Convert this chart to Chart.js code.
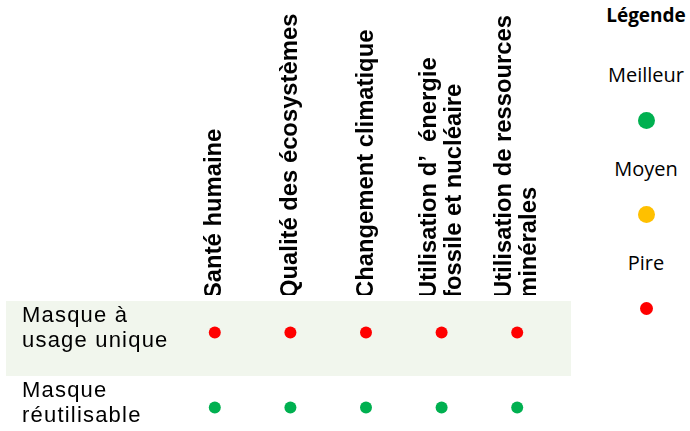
<!DOCTYPE html>
<html lang="fr">
<head>
<meta charset="utf-8">
<title>Masques : impacts environnementaux</title>
<script src="https://cdn.jsdelivr.net/npm/chart.js@4.4.1/dist/chart.umd.min.js"></script>
<style>
    html, body { margin: 0; padding: 0; background: #fff; overflow: hidden; }
    body { width: 690px; height: 431px; position: relative; }
    #chart { position: absolute; left: 0; top: 0; }
    #legend { position: absolute; left: 596px; top: 0; width: 100px; height: 431px;
              font-family: "Open Sans", Lato, sans-serif; color: #000; }
    #legend .title { position: absolute; left: 0; width: 100px; top: 2px; text-align: center;
                     font-weight: bold; font-size: 19px; line-height: 26px; }
    #legend .label { position: absolute; left: 0; width: 100px; text-align: center; font-size: 20px; line-height: 24px; }
    #legend .dot { position: absolute; border-radius: 50%; }
</style>
</head>
<body>
<canvas id="chart" width="575" height="451"></canvas>
<div id="legend"><div class="title">Légende</div></div>

<script>
// Colonnes (indicateurs) et lignes (produits)
const columns = [
    'Santé humaine',
    'Qualité des écosystèmes',
    'Changement climatique',
    ['Utilisation d’  énergie', 'fossile et nucléaire'],
    ['Utilisation de ressources', 'minérales']
];
const rows = [['Masque à', 'usage unique'], ['Masque', 'réutilisable']];

// Note de chaque produit par indicateur
const singleUseRatings = ['Pire', 'Pire', 'Pire', 'Pire', 'Pire'];
const reusableRatings = ['Meilleur', 'Meilleur', 'Meilleur', 'Meilleur', 'Meilleur'];

// Légende
const levels = ['Meilleur', 'Moyen', 'Pire'];
const levelColors = ['#00b050', '#ffc000', '#ff0000'];
const levelDotSize = [17, 17, 13];

const ratings = [singleUseRatings, reusableRatings];
const colorFor = level => levelColors[levels.indexOf(level)];

// fond vert clair derrière la première ligne (un peu décalé vers le bas comme l'original)
// + espacement des lettres pour les noms de lignes
const rowBand = {
    id: 'rowBand',
    beforeDraw(chart) {
        const { ctx, chartArea, scales: { y } } = chart;
        const yc = y.getPixelForValue(0);
        const half = (y.getPixelForValue(1) - yc) / 2;
        ctx.save();
        ctx.fillStyle = '#f1f6ed';
        ctx.fillRect(6, yc - half + 6, chartArea.right + 10, 2 * half);
        ctx.restore();
        ctx.letterSpacing = '1.2px';
    },
    beforeDatasetsDraw(chart) {
        chart.ctx.letterSpacing = '0px';
    }
};

new Chart(document.getElementById('chart'), {
    type: 'scatter',
    data: {
        xLabels: columns,
        yLabels: rows,
        datasets: ratings.map((row, j) => ({
            data: row.map((level, i) => ({ x: columns[i], y: rows[j] })),
            pointBackgroundColor: row.map(colorFor),
            pointBorderWidth: 0,
            pointRadius: 6,
            pointHoverRadius: 6
        }))
    },
    options: {
        responsive: false,
        animation: false,
        layout: { padding: { left: 22, right: 20, top: 0, bottom: 0 } },
        plugins: { legend: { display: false }, tooltip: { enabled: false } },
        scales: {
            x: {
                type: 'category',
                position: 'top',
                offset: true,
                grid: { display: false, drawTicks: false },
                border: { display: false },
                ticks: {
                    z: 1,
                    autoSkip: false,
                    minRotation: 90,
                    maxRotation: 90,
                    padding: -3,
                    labelOffset: 37.5,
                    color: '#000',
                    // interligne plus grand pour les titres d'une ligne : centre le texte sur la colonne
                    font: ctx => ({
                        family: '"Liberation Sans", Arial, sans-serif',
                        weight: 'bold',
                        size: 23.8,
                        lineHeight: Array.isArray(ctx.tick && ctx.tick.label) ? 1.05 : 1.576
                    })
                },
                afterFit(scale) { scale.height = 295; }
            },
            y: {
                type: 'category',
                offset: true,
                grid: { display: false, drawTicks: false },
                border: { display: false },
                ticks: {
                    crossAlign: 'far',
                    labelOffset: -4,
                    color: '#000',
                    font: { family: '"Liberation Sans", Arial, sans-serif', size: 22, lineHeight: 1.15 }
                },
                afterFit(scale) {
                    scale.width = 155;
                    scale.paddingTop = 0;
                    scale.paddingBottom = 0;
                }
            }
        }
    },
    plugins: [rowBand]
});

// légende à droite
const legend = document.getElementById('legend');
levels.forEach((level, i) => {
    const label = document.createElement('div');
    label.className = 'label';
    label.textContent = level;
    label.style.top = (75 + i * 94 - 12) + 'px';
    legend.appendChild(label);

    const dot = document.createElement('div');
    const size = levelDotSize[i];
    dot.className = 'dot';
    dot.style.width = size + 'px';
    dot.style.height = size + 'px';
    dot.style.background = levelColors[i];
    dot.style.left = (50 - size / 2) + 'px';
    dot.style.top = (120 + i * 94 - size / 2) + 'px';
    legend.appendChild(dot);
});
</script>
</body>
</html>
